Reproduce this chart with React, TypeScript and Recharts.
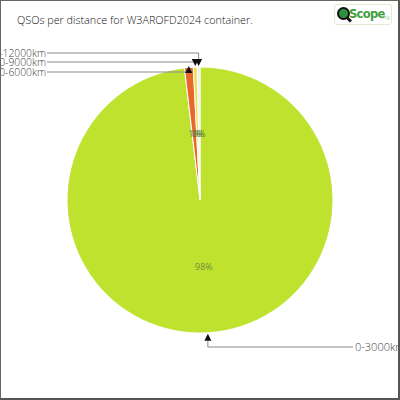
import { Cell, Pie, PieChart } from "recharts";

// QSO counts per distance band
const categories = ["0-3000km", "3000-6000km", "6000-9000km", "9000-12000km"];
const qsoCounts = [1470, 16, 7, 5];
const sliceColors = ["#bfe22f", "#e8682c", "#f3df46", "#e2edf2"];

// where each leader line turns (y) — big slice goes right, the slivers stack left
const elbowRows = [347, 72, 62, 53];

const RADIAN = Math.PI / 180;
const FONT = "'Open Sans', 'DejaVu Sans', sans-serif";

const data = categories.map((name, i) => ({ name, value: qsoCounts[i] }));

function SliceLabel(props: any) {
  const { cx, cy, midAngle, outerRadius, percent, index, name } = props;
  const cos = Math.cos(-midAngle * RADIAN);
  const sin = Math.sin(-midAngle * RADIAN);
  const ix = cx + outerRadius * 0.5 * cos;
  const iy = cy + outerRadius * 0.5 * sin;
  const tx = cx + (outerRadius + 1) * cos;
  const ty = cy + (outerRadius + 1) * sin;
  const elbow = elbowRows[index];
  const pct = `${Math.round(percent * 100)}%`;
  const line = "#8a8a8a";

  let arrow: string;
  let path: string;
  let text;
  if (sin > 0) {
    // bottom slice: arrow points up into the pie, line runs right
    arrow = `M${tx},${ty} L${tx - 3.5},${ty + 7} L${tx + 3.5},${ty + 7} Z`;
    path = `M${tx},${ty + 7} L${tx},${elbow} L353,${elbow}`;
    text = (
      <text x={355} y={elbow + 4} fontSize={11} fontWeight={300} fill="#444" textAnchor="start" fontFamily={FONT}>
        {name}
      </text>
    );
  } else {
    if (elbow > ty) {
      arrow = `M${tx},${elbow - 6} L${tx - 3.5},${elbow + 1} L${tx + 3.5},${elbow + 1} Z`;
      path = `M${tx},${elbow} L47,${elbow}`;
    } else {
      arrow = `M${tx},${ty} L${tx - 3.5},${ty - 7} L${tx + 3.5},${ty - 7} Z`;
      path = `M${tx},${ty - 7} L${tx},${elbow} L47,${elbow}`;
    }
    text = (
      <text x={46} y={elbow + 4} fontSize={10.3} fontWeight={300} fill="#444" textAnchor="end" fontFamily={FONT}>
        {name}
      </text>
    );
  }

  return (
    <g>
      <text
        x={ix}
        y={iy}
        fontSize={9}
        fill="#5d7d3a"
        fillOpacity={0.9}
        textAnchor="middle"
        dominantBaseline="central"
        fontFamily={FONT}
      >
        {pct}
      </text>
      <path d={path} stroke={line} strokeWidth={1} fill="none" />
      <path d={arrow} fill="#111" />
      {text}
    </g>
  );
}

function Logo() {
  return (
    <div
      style={{
        position: "absolute",
        left: 334,
        top: 4,
        width: 58,
        height: 21,
        border: "1px solid #e3ebcf",
        borderRadius: 3,
        boxSizing: "border-box",
        fontFamily: "'DejaVu Sans', sans-serif",
        whiteSpace: "nowrap",
      }}
    >
      <div
        style={{
          position: "absolute",
          left: 2,
          top: 2,
          width: 9,
          height: 9,
          borderRadius: "50%",
          background: "#2e8f3e",
          border: "2px solid #111",
        }}
      />
      <div
        style={{
          position: "absolute",
          left: 11,
          top: 13,
          width: 6,
          height: 2.5,
          background: "#111",
          transform: "rotate(45deg)",
        }}
      />
      <span
        style={{
          position: "absolute",
          left: 14,
          top: 2,
          color: "#3d9f3a",
          fontWeight: 700,
          fontSize: 11.5,
          letterSpacing: -0.7,
        }}
      >
        Scope
      </span>
      <span style={{ position: "absolute", left: 45, top: 9, color: "#a9c98f", fontSize: 5 }}>.org</span>
    </div>
  );
}

export default function App() {
  return (
    <div style={{ position: "fixed", left: 0, top: 0, width: 400, height: 400, background: "#fff" }}>
      <PieChart
        width={400}
        height={400}
        margin={{ top: 0, right: 0, bottom: 0, left: 0 }}
        style={{ position: "absolute", left: 0, top: 0 }}
      >
        <Pie
          data={data}
          dataKey="value"
          nameKey="name"
          cx={200}
          cy={200}
          outerRadius={133}
          startAngle={90}
          endAngle={-270}
          stroke="#fff"
          strokeWidth={1}
          label={SliceLabel}
          labelLine={false}
          isAnimationActive={false}
        >
          {data.map((d, i) => (
            <Cell key={d.name} fill={sliceColors[i]} />
          ))}
        </Pie>
      </PieChart>
      <div
        style={{
          position: "absolute",
          left: 17,
          top: 12,
          fontSize: 10.8,
          fontWeight: 300,
          color: "#111",
          fontFamily: FONT,
          whiteSpace: "nowrap",
        }}
      >
        QSOs per distance for W3AROFD2024 container.
      </div>
      <Logo />
      {/* frame drawn on top so nothing covers it */}
      <div
        style={{
          position: "absolute",
          left: 0,
          top: 0,
          width: 400,
          height: 400,
          zIndex: 10,
          boxSizing: "border-box",
          borderLeft: "1px solid #666",
          borderTop: "1px solid #666",
          borderRight: "2px solid #555",
          borderBottom: "2px solid #555",
          pointerEvents: "none",
        }}
      />
    </div>
  );
}
